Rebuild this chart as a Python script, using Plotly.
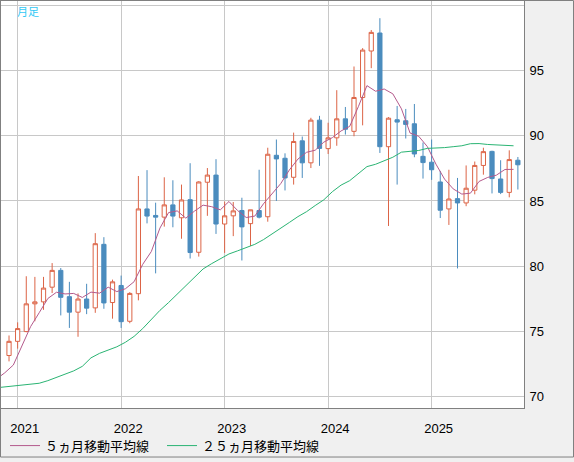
import plotly.graph_objects as go

# ---- data ----
months = [
    "2020-12",
    "2021-01", "2021-02", "2021-03", "2021-04", "2021-05", "2021-06",
    "2021-07", "2021-08", "2021-09", "2021-10", "2021-11", "2021-12",
    "2022-01", "2022-02", "2022-03", "2022-04", "2022-05", "2022-06",
    "2022-07", "2022-08", "2022-09", "2022-10", "2022-11", "2022-12",
    "2023-01", "2023-02", "2023-03", "2023-04", "2023-05", "2023-06",
    "2023-07", "2023-08", "2023-09", "2023-10", "2023-11", "2023-12",
    "2024-01", "2024-02", "2024-03", "2024-04", "2024-05", "2024-06",
    "2024-07", "2024-08", "2024-09", "2024-10", "2024-11", "2024-12",
    "2025-01", "2025-02", "2025-03", "2025-04", "2025-05", "2025-06",
    "2025-07", "2025-08", "2025-09", "2025-10", "2025-11",
]

open_ = [
    73.13,
    74.22, 74.97, 77.10, 77.25, 78.38, 79.67, 77.65, 76.46, 77.47, 76.79, 81.67, 77.20,
    78.51, 75.76, 77.88, 84.39, 83.89, 83.76, 84.70, 83.71, 85.10, 81.06, 86.44, 86.99,
    83.23, 83.86, 84.27, 83.26, 84.27, 83.79, 88.51, 88.28, 86.82, 89.62, 87.93, 91.21,
    89.02, 89.85, 91.31, 90.35, 92.95, 96.52, 97.90, 89.17, 91.24, 91.16, 90.93, 88.43,
    87.98, 86.46, 84.39, 85.18, 84.85, 85.83, 87.73, 88.81, 86.69, 85.66, 88.13,
]
high = [
    74.67,
    75.68, 79.22, 79.17, 79.17, 80.23, 79.85, 78.79, 77.90, 78.64, 82.53, 82.22, 78.96,
    79.27, 78.00, 86.92, 87.37, 84.87, 86.82, 86.59, 86.26, 87.90, 86.52, 87.53, 88.21,
    84.95, 84.92, 85.25, 84.32, 87.40, 89.09, 89.72, 88.66, 90.25, 89.95, 91.39, 91.54,
    91.01, 93.51, 92.22, 95.33, 96.74, 98.13, 99.04, 91.44, 92.30, 92.07, 92.45, 89.49,
    89.72, 87.31, 87.40, 86.77, 87.73, 88.03, 89.09, 88.86, 88.13, 88.89, 88.38,
]
low = [
    72.68,
    73.66, 74.92, 75.76, 76.64, 77.93, 76.21, 75.25, 74.57, 76.31, 76.41, 76.72, 75.96,
    75.25, 75.61, 77.37, 83.28, 79.44, 83.03, 82.98, 82.10, 80.58, 80.73, 83.86, 82.47,
    81.01, 82.30, 80.43, 81.54, 83.66, 83.41, 85.00, 85.81, 86.26, 86.77, 87.53, 87.70,
    88.61, 89.24, 90.10, 89.97, 90.81, 95.20, 88.69, 83.08, 86.26, 89.80, 88.36, 86.72,
    86.62, 83.69, 83.16, 79.82, 84.60, 85.51, 87.02, 85.58, 85.53, 85.28, 85.88,
]
close = [
    74.22,
    75.20, 77.10, 77.25, 78.31, 79.67, 77.60, 76.46, 77.47, 76.77, 81.72, 77.17, 78.79,
    75.73, 77.90, 84.39, 83.84, 83.76, 84.70, 83.84, 85.08, 81.04, 86.46, 86.99, 83.23,
    83.86, 84.24, 83.01, 84.32, 83.76, 88.59, 88.23, 86.77, 89.57, 87.93, 91.21, 89.04,
    89.85, 91.31, 90.51, 92.95, 96.59, 97.95, 89.17, 91.36, 91.06, 90.88, 88.61, 87.95,
    87.40, 84.29, 85.15, 84.85, 85.98, 87.73, 88.79, 86.72, 85.66, 88.18, 87.78,
]

# moving averages: first value belongs to 2020-11 (just left of the visible range)
ma5 = [
    71.30, 71.80,
    72.40, 73.90, 75.35, 76.42, 77.51, 77.99, 77.86, 77.90, 77.59, 78.00, 77.92, 78.38,
    78.04, 78.26, 78.80, 80.13, 81.12, 82.92, 84.11, 84.24, 83.68, 84.22, 84.68, 84.56,
    84.32, 84.96, 84.27, 83.73, 83.84, 84.78, 85.58, 86.33, 87.38, 88.22, 88.74, 88.90,
    89.52, 89.87, 90.38, 90.73, 92.24, 93.86, 93.43, 93.60, 93.23, 92.08, 90.22, 89.97,
    89.18, 87.83, 86.68, 85.93, 85.53, 85.60, 86.50, 86.81, 86.98, 87.42, 87.43,
]
ma25 = [
    70.65, 70.72,
    70.78, 70.82, 70.90, 71.00, 71.20, 71.45, 71.70, 71.95, 72.30, 72.95, 73.30, 73.52,
    73.80, 74.15, 74.60, 75.20, 75.90, 76.60, 77.20, 77.85, 78.50, 79.10, 79.78, 80.19,
    80.57, 80.93, 81.17, 81.45, 81.67, 82.03, 82.45, 82.87, 83.35, 83.80, 84.18, 84.65,
    85.09, 85.72, 86.22, 86.56, 87.07, 87.64, 87.82, 88.12, 88.36, 88.75, 88.84, 88.88,
    89.04, 89.06, 89.10, 89.17, 89.24, 89.40, 89.41, 89.34, 89.30, 89.24, 89.24,
]

year_labels = ["2021", "2022", "2023", "2024", "2025"]
y_ticks = [70, 75, 80, 85, 90, 95, 100]
y_ticktext = ["70", "75", "80", "85", "90", "95", ""]

names = ["５ヵ月移動平均線", "２５ヵ月移動平均線"]
corner_label = "月足"

# ---- positions ----
x = list(range(len(months)))
# MA points sit half a month left of the candle centres; first point is the month before
ma_x = [i - 1.5 for i in range(len(ma5))]
tickvals = [months.index(y + "-01") for y in year_labels]

UP = "#DC6446"
DOWN = "#4B8CBE"

fig = go.Figure()
fig.add_trace(go.Candlestick(
    x=x, open=open_, high=high, low=low, close=close,
    increasing=dict(line=dict(color=UP, width=1), fillcolor="#FFFFFF"),
    decreasing=dict(line=dict(color=DOWN, width=1), fillcolor=DOWN),
    whiskerwidth=0,
    showlegend=False,
    hoverinfo="skip",
))
fig.add_trace(go.Scatter(
    x=ma_x, y=ma5, mode="lines", name=names[0],
    line=dict(color="#B45A8C", width=1), hoverinfo="skip",
))
fig.add_trace(go.Scatter(
    x=ma_x, y=ma25, mode="lines", name=names[1],
    line=dict(color="#2AB473", width=1), hoverinfo="skip",
))

W, H = 574, 462
ML, MR, MT, MB = 1, 50, 1, 50
PW = W - ML - MR
PH = H - MT - MB


def px_x(p):
    return (p - ML) / PW


def px_y(p):
    return (H - MB - p) / PH


fig.update_layout(
    width=W, height=H,
    margin=dict(l=ML, r=MR, t=MT, b=MB, pad=0),
    paper_bgcolor="#F0F0F0",
    plot_bgcolor="#FFFFFF",
    font=dict(family="Liberation Sans", size=13, color="#000000"),
    showlegend=True,
    legend=dict(
        orientation="h",
        x=px_x(5), y=px_y(450),
        xanchor="left", yanchor="middle",
        bgcolor="rgba(0,0,0,0)",
        font=dict(family="Noto Sans CJK JP", size=13, color="#000000"),
        itemwidth=30,
        entrywidth=112,
    ),
    xaxis=dict(
        range=[-0.93, 59.71],
        tickmode="array", tickvals=tickvals, ticktext=year_labels,
        showgrid=True, gridcolor="#C8C8C8", gridwidth=1,
        zeroline=False,
        showline=True, linecolor="#808080", linewidth=1, mirror=True,
        ticks="",
        ticklabelshift=7,
        ticklabelstandoff=8,
        rangeslider=dict(visible=False),
        fixedrange=True,
    ),
    yaxis=dict(
        side="right",
        range=[69.1, 100.36],
        tickmode="array", tickvals=y_ticks, ticktext=y_ticktext,
        showgrid=True, gridcolor="#C8C8C8", gridwidth=1,
        zeroline=False,
        showline=True, linecolor="#808080", linewidth=1, mirror=True,
        ticks="",
        ticklabelstandoff=2,
        fixedrange=True,
    ),
    annotations=[dict(
        text=corner_label, xref="paper", yref="paper",
        x=px_x(15), y=px_y(11), xanchor="left", yanchor="middle",
        showarrow=False,
        font=dict(family="Noto Sans CJK JP", size=11, color="#33C8F5"),
    )],
    shapes=[dict(
        type="rect", xref="paper", yref="paper",
        x0=px_x(0.5), x1=px_x(W - 0.5), y0=px_y(H - 0.5), y1=px_y(0.5),
        line=dict(color="#808080", width=1), fillcolor="rgba(0,0,0,0)",
        layer="above",
    )],
)

fig.write_html("out.html", config={"displayModeBar": False, "staticPlot": True},
               post_script="document.body.style.margin='0';")
